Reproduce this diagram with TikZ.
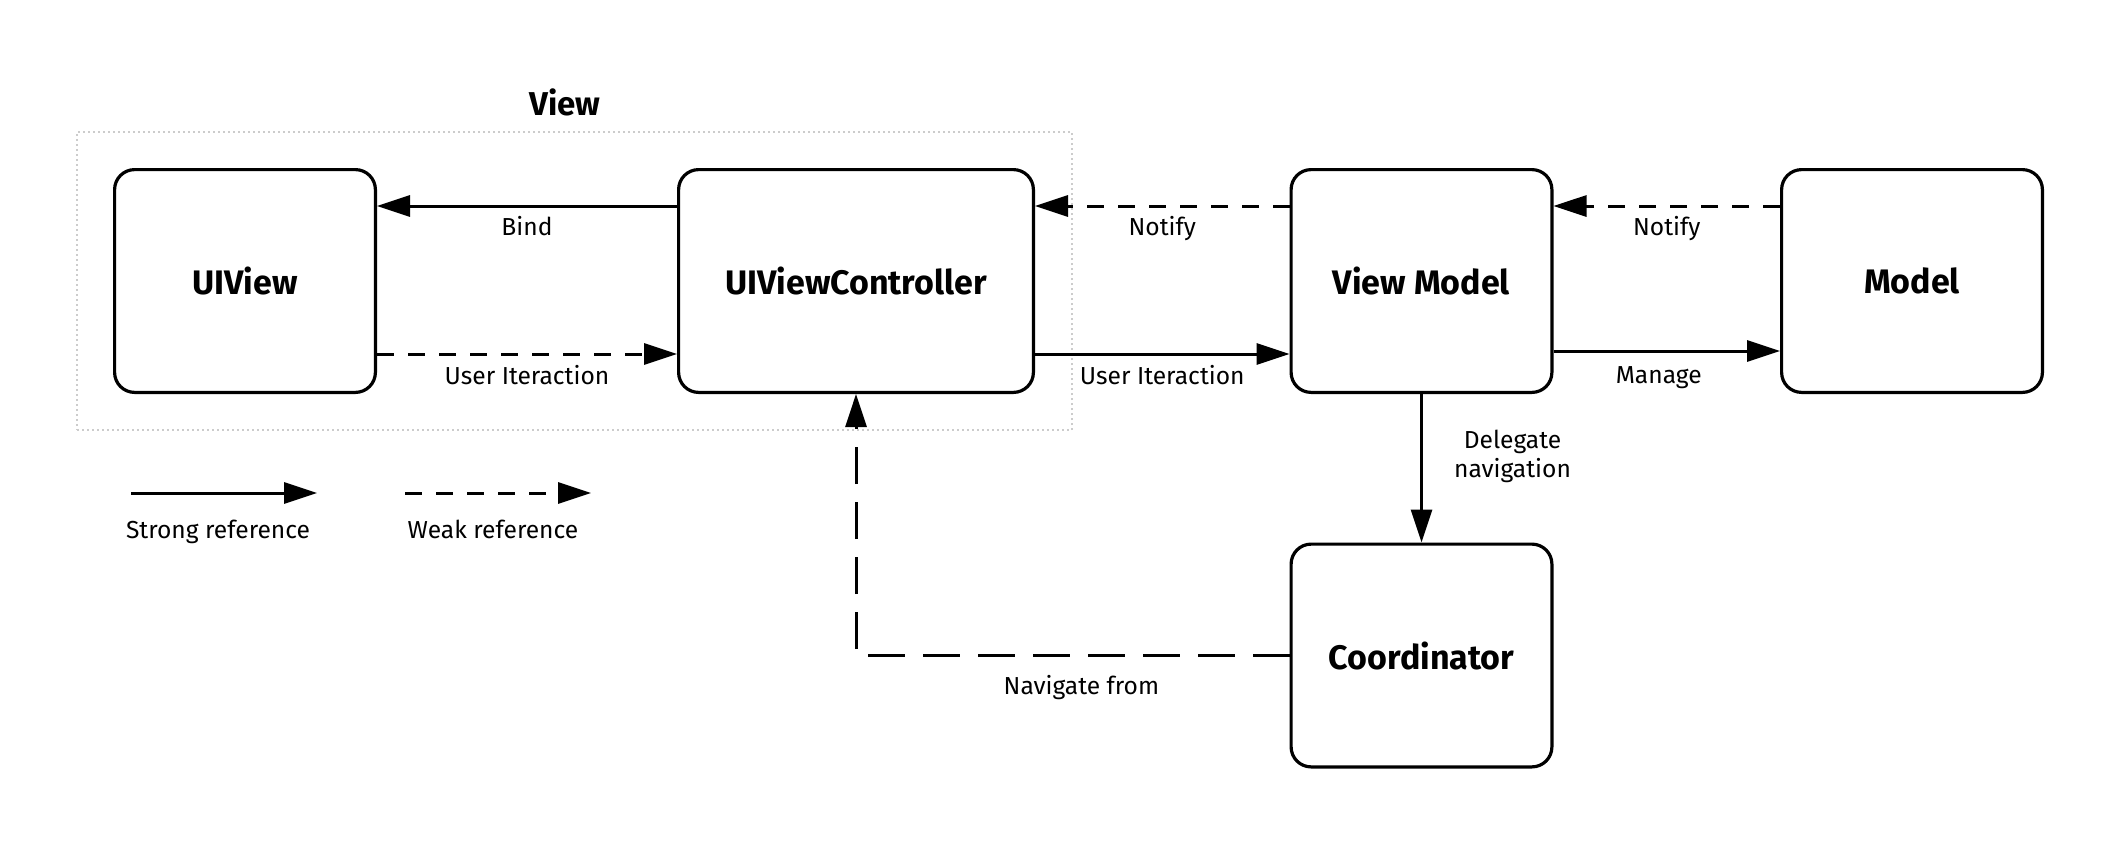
\documentclass[tikz,border=0pt]{standalone}
\usepackage{fontspec}
\setmainfont{Fira Sans}
\usetikzlibrary{arrows.meta}
\begin{document}
\begin{tikzpicture}[x=0.5pt,y=-0.5pt,
  box/.style={draw=black, line width=1.6pt, rounded corners=10pt,
    minimum width=130.4pt, minimum height=111.4pt, inner sep=0pt,
    font=\fontsize{17}{20}\selectfont\bfseries, fill=white},
  widebox/.style={minimum width=177.4pt},
  strong/.style={line width=1.5pt, -{Triangle[length=16.5pt,width=10.5pt]}},
  weak/.style={strong, dash pattern=on 8.5pt off 7pt},
  longdash/.style={strong, dash pattern=on 18.3pt off 9.2pt},
  lbl/.style={font=\fontsize{12.3}{14.5}\selectfont, inner sep=0pt, anchor=base},
  groupbox/.style={draw=black!20, line width=1pt, dash pattern=on 1pt off 1.5pt,
    minimum width=497.5pt, minimum height=149pt, inner sep=0pt},
]
\useasboundingbox (0,0) rectangle (2119,846);

% group
\node[groupbox] (viewgroup) at (574.5,281) {};
\node[font=\fontsize{16.5}{20}\selectfont\bfseries, anchor=base, inner sep=0pt] (viewtitle) at (565,115) {View};

% boxes
\node[box] (uiview) at (245,281) {UIView};
\node[box, widebox] (uivc) at (856,281) {UIViewController};
\node[box] (vm) at (1421.5,281) {View Model};
\node[box] (model) at (1912,281) {Model};
\node[box] (coord) at (1421.5,655.5) {Coordinator};

% rows
\coordinate (rowA) at (0,206);
\coordinate (rowB) at (0,354);
\coordinate (rowM) at (0,351);

% connectors
\draw[strong] (uivc.west |- rowA) -- node[lbl, midway, yshift=-14.5pt] {Bind} (uiview.east |- rowA);
\draw[weak] (uiview.east |- rowB) -- node[lbl, midway, yshift=-15pt] {User Iteraction} (uivc.west |- rowB);
\draw[weak] (vm.west |- rowA) -- node[lbl, midway, yshift=-14.5pt] {Notify} (uivc.east |- rowA);
\draw[strong] (uivc.east |- rowB) -- node[lbl, midway, yshift=-15pt] {User Iteraction} (vm.west |- rowB);
\draw[weak] (model.west |- rowA) -- node[lbl, midway, yshift=-14.5pt] {Notify} (vm.east |- rowA);
\draw[strong] (vm.east |- rowM) -- node[lbl, midway, xshift=-4pt, yshift=-16pt] {Manage} (model.west |- rowM);
\draw[strong] (vm.south) -- node[lbl, pos=0.42, anchor=center, align=center, xshift=45.5pt] {Delegate\\navigation} (coord.north);
\draw[longdash] (coord.west) -| node[lbl, pos=0.24, yshift=-19.5pt] {Navigate from} (uivc.south);

% legend
\coordinate (ls1) at (131,493);
\coordinate (ls2) at (317,493);
\coordinate (lw1) at (405,493);
\coordinate (lw2) at (591,493);
\draw[strong] (ls1) -- node[lbl, midway, xshift=-3pt, yshift=-22.5pt] {Strong reference} (ls2);
\draw[weak] (lw1) -- node[lbl, midway, xshift=-2.5pt, yshift=-22.5pt] {Weak reference} (lw2);
\end{tikzpicture}
\end{document}
